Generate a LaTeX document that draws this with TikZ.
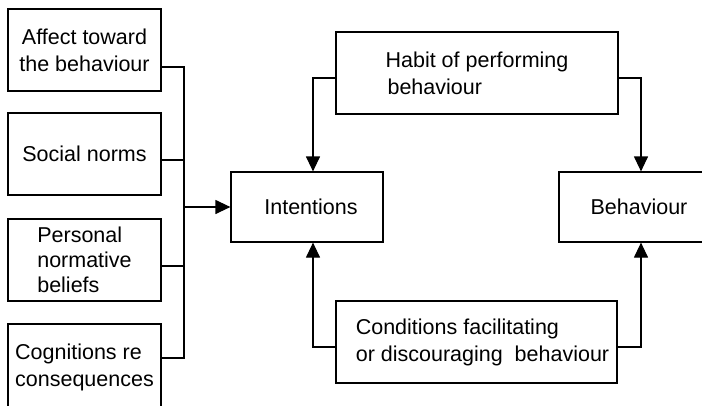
\documentclass[tikz,border=0pt]{standalone}
\usepackage{fontspec}
\setmainfont{Liberation Sans}
\usetikzlibrary{arrows.meta}
\tikzset{
  box/.style={draw, line width=1.2pt, rectangle, inner sep=0pt,
    font=\fontsize{21.5}{27}\selectfont},
  conn/.style={line width=1.2pt},
  arr/.style={line width=1.2pt, -{Triangle[length=15pt,width=14pt]}}
}
\begin{document}
\begin{tikzpicture}[x=1pt,y=-1pt]
\path[use as bounding box, clip] (0,0) rectangle (702,405);
\fill[white] (0,0) rectangle (702,405);
% left column
\node[box, minimum width=153pt, minimum height=82pt, align=center] (a1) at (84.5,50) {Affect toward\\the behaviour};
\node[box, minimum width=153pt, minimum height=82pt] (a2) at (84.5,154) {\raisebox{-6pt}{Social norms}};
\node[box, minimum width=153pt, minimum height=82pt, align=left, font=\fontsize{21.5}{25}\selectfont] (a3) at (84.5,260) {Personal\\normative\\beliefs};
\node[box, minimum width=153pt, minimum height=86pt, align=left] (a4) at (84.5,367) {Cognitions re\\consequences};
% centre / right
\node[box, minimum width=152pt, minimum height=70pt] (intent) at (307,207) {\hspace*{8pt}Intentions};
\node[box, minimum width=160pt, minimum height=70pt] (beh) at (639,207) {Behaviour};
\node[box, minimum width=282pt, minimum height=82pt, align=left] (habit) at (477,73) {Habit of performing\\\hspace*{2pt}behaviour};
\node[box, minimum width=281pt, minimum height=82pt, align=left] (cond) at (476.5,342) {\hspace*{12pt}Conditions facilitating\\\hspace*{12pt}or discouraging\ \ behaviour};
% bus on the left
\coordinate (bt) at (184,67);
\coordinate (bb) at (184,358);
\coordinate (p1) at ([yshift=-17pt]a1.east);
\coordinate (p2) at ([yshift=-6pt]a2.east);
\coordinate (p3) at ([yshift=-6pt]a3.east);
\coordinate (p4) at ([yshift=9pt]a4.east);
\draw[conn] (p1) -- (p1 -| bt) -- (p4 -| bb) -- (p4);
\draw[conn] (p2) -- (p2 -| bt);
\draw[conn] (p3) -- (p3 -| bt);
\draw[arr] (intent.west -| bt) -- (intent.west);
% habit and conditions
\draw[arr] ([yshift=-5pt]habit.west) -| ([xshift=6pt]intent.north);
\draw[arr] ([yshift=-5pt]habit.east) -| ([xshift=2pt]beh.north);
\draw[arr] ([yshift=-5pt]cond.west) -| ([xshift=6pt]intent.south);
\draw[arr] ([yshift=-5pt]cond.east) -| ([xshift=2pt]beh.south);
\end{tikzpicture}
\end{document}
